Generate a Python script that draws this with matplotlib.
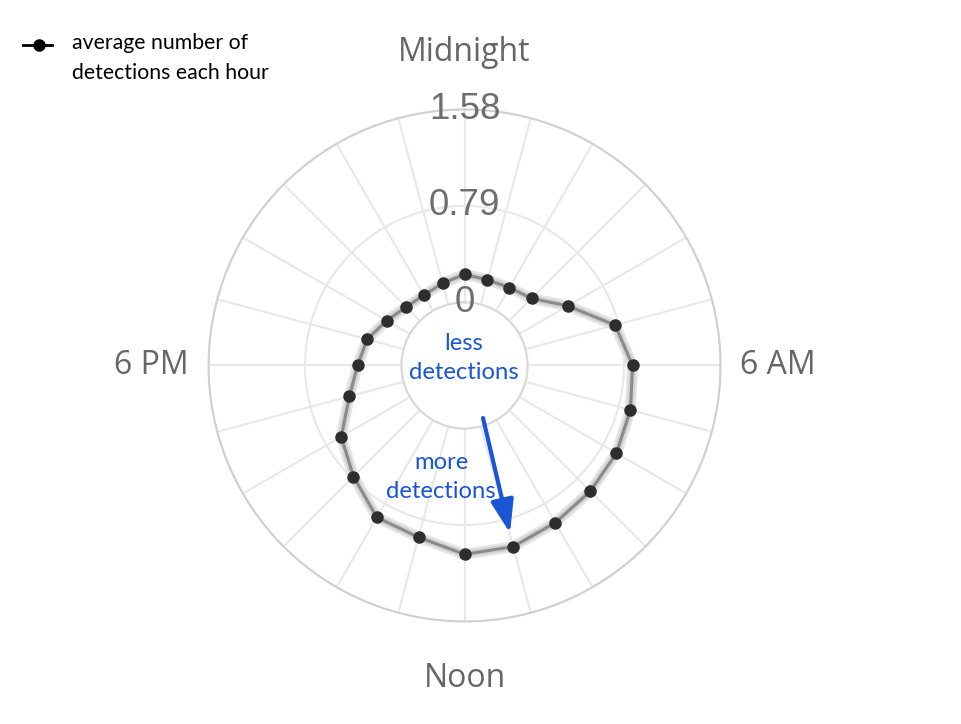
import numpy as np
import matplotlib.pyplot as plt
from matplotlib.lines import Line2D

# average detections per hour (0 = midnight)
hours = list(range(24))
avg_detections = [0.23, 0.21, 0.22, 0.26, 0.46, 0.76, 0.86, 0.89, 0.92, 0.94, 0.97, 1.02,
                  1.03, 0.94, 0.92, 0.77, 0.65, 0.46, 0.36, 0.31, 0.22, 0.16, 0.15, 0.18]
r_ticks = [0, 0.79, 1.58]
r_tick_labels = ['0', '0.79', '1.58']
hour_labels = {0: 'Midnight', 6: '6 AM', 12: 'Noon', 18: '6 PM'}
legend_label = 'average number of\ndetections each hour'

blue = '#1a55d6'
W, H = 961, 724

def fx(px):
    return px / W

def fy(py):
    return 1 - py / H

fig = plt.figure(figsize=(9.61, 7.24), dpi=100)
ax = fig.add_axes([0.217, 0.1416, 0.5328, 0.7072], projection='polar')
ax.set_theta_zero_location('N')
ax.set_theta_direction(-1)
ax.set_ylim(0, 1.58)
ax.set_rorigin(-0.516)

theta = np.deg2rad(np.array(hours) * 360 / 24)
th_c = np.append(theta, theta[0])
r_c = np.append(avg_detections, avg_detections[0])

ax.plot(th_c, r_c, color='#e6e6e6', lw=8, solid_capstyle='round', zorder=3)
ax.plot(th_c, r_c, color='#d2d2d2', lw=5, solid_capstyle='round', zorder=3)
ax.plot(th_c, r_c, color='#8a8a8a', lw=2.2, zorder=4)
ax.plot(theta, avg_detections, 'o', color='#2e2e2e', ms=9, mec='none', zorder=5)

# grid
ax.set_xticks(theta)
ax.set_xticklabels([hour_labels.get(h, '') for h in hours], fontfamily='Open Sans',
                   fontweight='medium')
ax.tick_params(axis='x', pad=34, labelsize=23, labelcolor='#666666', length=0)
ax.set_yticks(r_ticks)
ax.set_yticklabels([])
ax.tick_params(axis='y', length=0)
ax.grid(color='#e8e8e8', lw=1.5)
ax.spines['polar'].set_color('#d0d0d0')
ax.spines['polar'].set_linewidth(1.5)
ax.spines['inner'].set_color('#d8d8d8')
ax.spines['inner'].set_linewidth(1.5)

for r, lab in zip(r_ticks, r_tick_labels):
    ax.text(0, r, lab, ha='center', va='center', fontsize=26.5, color='#6e6e6e',
            fontfamily='Liberation Sans', zorder=6)

# legend
fig.add_artist(Line2D([fx(23), fx(52)], [fy(45), fy(45)], color='black', lw=2,
                      transform=fig.transFigure))
fig.add_artist(Line2D([fx(39)], [fy(45)], color='black', marker='o', ms=8,
                      transform=fig.transFigure))
fig.text(fx(72), fy(58), legend_label, ha='left', va='center', fontsize=15.3,
         fontfamily='Lato', color='black', linespacing=1.65)

# annotations
fig.text(fx(464), fy(358), 'less\ndetections', ha='center', va='center', fontsize=17.2,
         fontfamily='Lato', color=blue, linespacing=1.52)
fig.text(fx(441), fy(477), 'more\ndetections', ha='center', va='center', fontsize=17.2,
         fontfamily='Lato', color=blue, linespacing=1.52)
ax.annotate('', xy=(fx(510), fy(533)), xytext=(fx(483), fy(418)),
            xycoords='figure fraction', textcoords='figure fraction',
            arrowprops=dict(arrowstyle='-|>,head_length=1.0,head_width=0.35',
                            color=blue, lw=3, mutation_scale=20,
                            shrinkA=0, shrinkB=0))

fig.savefig('out.png', dpi=100)
